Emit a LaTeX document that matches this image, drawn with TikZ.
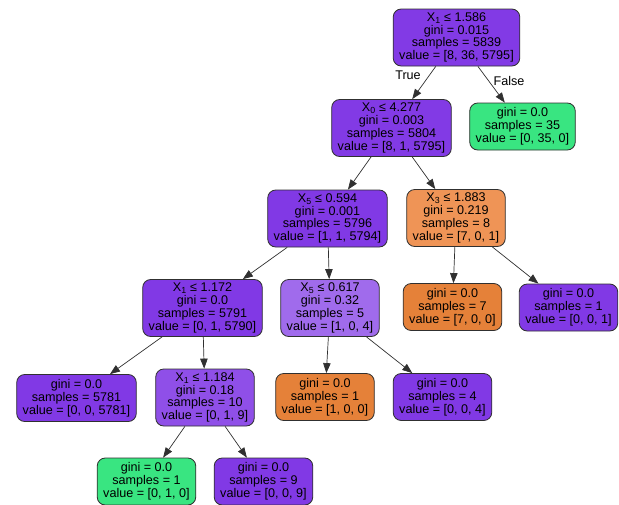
\documentclass[tikz,border=0pt]{standalone}
\usepackage{fontspec}
\setmainfont{Liberation Sans}
\usetikzlibrary{arrows.meta}
\definecolor{cpur}{HTML}{8139E5}
\definecolor{cpurA}{HTML}{823AE5}
\definecolor{cpurI}{HTML}{8F4FE8}
\definecolor{cpurE}{HTML}{A06BEC}
\definecolor{cgrn}{HTML}{39E581}
\definecolor{corg}{HTML}{E58139}
\definecolor{corgC}{HTML}{EF9456}
\definecolor{cedge}{HTML}{303030}
\newcommand{\xs}[1]{X\textsubscript{#1}}
\tikzset{
  tnode/.style={draw=cedge, line width=0.8pt, rounded corners=8pt, align=center,
    inner xsep=6pt, inner ysep=2pt,
    font=\fontsize{12.6}{12.8}\selectfont},
  split/.style={tnode, minimum height=57pt},
  leaf/.style={tnode, minimum height=47pt},
  edge/.style={draw=cedge, line width=0.7pt, -{Triangle[length=10pt,width=7.5pt]}},
  elabel/.style={font=\fontsize{12.6}{13}\selectfont, inner sep=0pt}
}
\begin{document}
\begin{tikzpicture}[x=1pt,y=-1pt]
\useasboundingbox (0,0) rectangle (619,504);
\node[split, fill=cpurA] (root) at (456.5,37.5) {\xs{1} ≤ 1.586\\gini = 0.015\\samples = 5839\\value = [8, 36, 5795]};
\node[split, fill=cpurA] (a) at (391.5,128) {\xs{0} ≤ 4.277\\gini = 0.003\\samples = 5804\\value = [8, 1, 5795]};
\node[leaf, fill=cgrn] (g1) at (522.5,126.5) {gini = 0.0\\samples = 35\\value = [0, 35, 0]};
\node[split, fill=cpur] (b) at (327.5,218.5) {\xs{5} ≤ 0.594\\gini = 0.001\\samples = 5796\\value = [1, 1, 5794]};
\node[split, fill=corgC] (c) at (456,218) {\xs{3} ≤ 1.883\\gini = 0.219\\samples = 8\\value = [7, 0, 1]};
\node[split, fill=cpur] (d) at (202.5,308) {\xs{1} ≤ 1.172\\gini = 0.0\\samples = 5791\\value = [0, 1, 5790]};
\node[split, fill=cpurE] (e) at (330,308) {\xs{5} ≤ 0.617\\gini = 0.32\\samples = 5\\value = [1, 0, 4]};
\node[leaf, fill=corg] (f) at (452.5,307) {gini = 0.0\\samples = 7\\value = [7, 0, 0]};
\node[leaf, fill=cpur] (g) at (568.5,307.5) {gini = 0.0\\samples = 1\\value = [0, 0, 1]};
\node[leaf, fill=cpur] (h) at (76.5,398) {gini = 0.0\\samples = 5781\\value = [0, 0, 5781]};
\node[split, fill=cpurI] (i) at (205,397.5) {\xs{1} ≤ 1.184\\gini = 0.18\\samples = 10\\value = [0, 1, 9]};
\node[leaf, fill=corg] (j) at (325,397) {gini = 0.0\\samples = 1\\value = [1, 0, 0]};
\node[leaf, fill=cpur] (k) at (442.5,397) {gini = 0.0\\samples = 4\\value = [0, 0, 4]};
\node[leaf, fill=cgrn] (l) at (146.5,481.5) {gini = 0.0\\samples = 1\\value = [0, 1, 0]};
\node[leaf, fill=cpur] (m) at (263.5,481.5) {gini = 0.0\\samples = 9\\value = [0, 0, 9]};
\draw[edge] (root) -- (a);
\draw[edge] (root) -- (g1);
\draw[edge] (a) -- (b);
\draw[edge] (a) -- (c);
\draw[edge] (b) -- (d);
\draw[edge] (b) -- (e);
\draw[edge] (c) -- (f);
\draw[edge] (c) -- (g);
\draw[edge] (d) -- (h);
\draw[edge] (d) -- (i);
\draw[edge] (e) -- (j);
\draw[edge] (e) -- (k);
\draw[edge] (i) -- (l);
\draw[edge] (i) -- (m);
\node[elabel] (tl) at (408,75) {True};
\node[elabel] (fl) at (509,81) {False};
\end{tikzpicture}
\end{document}
